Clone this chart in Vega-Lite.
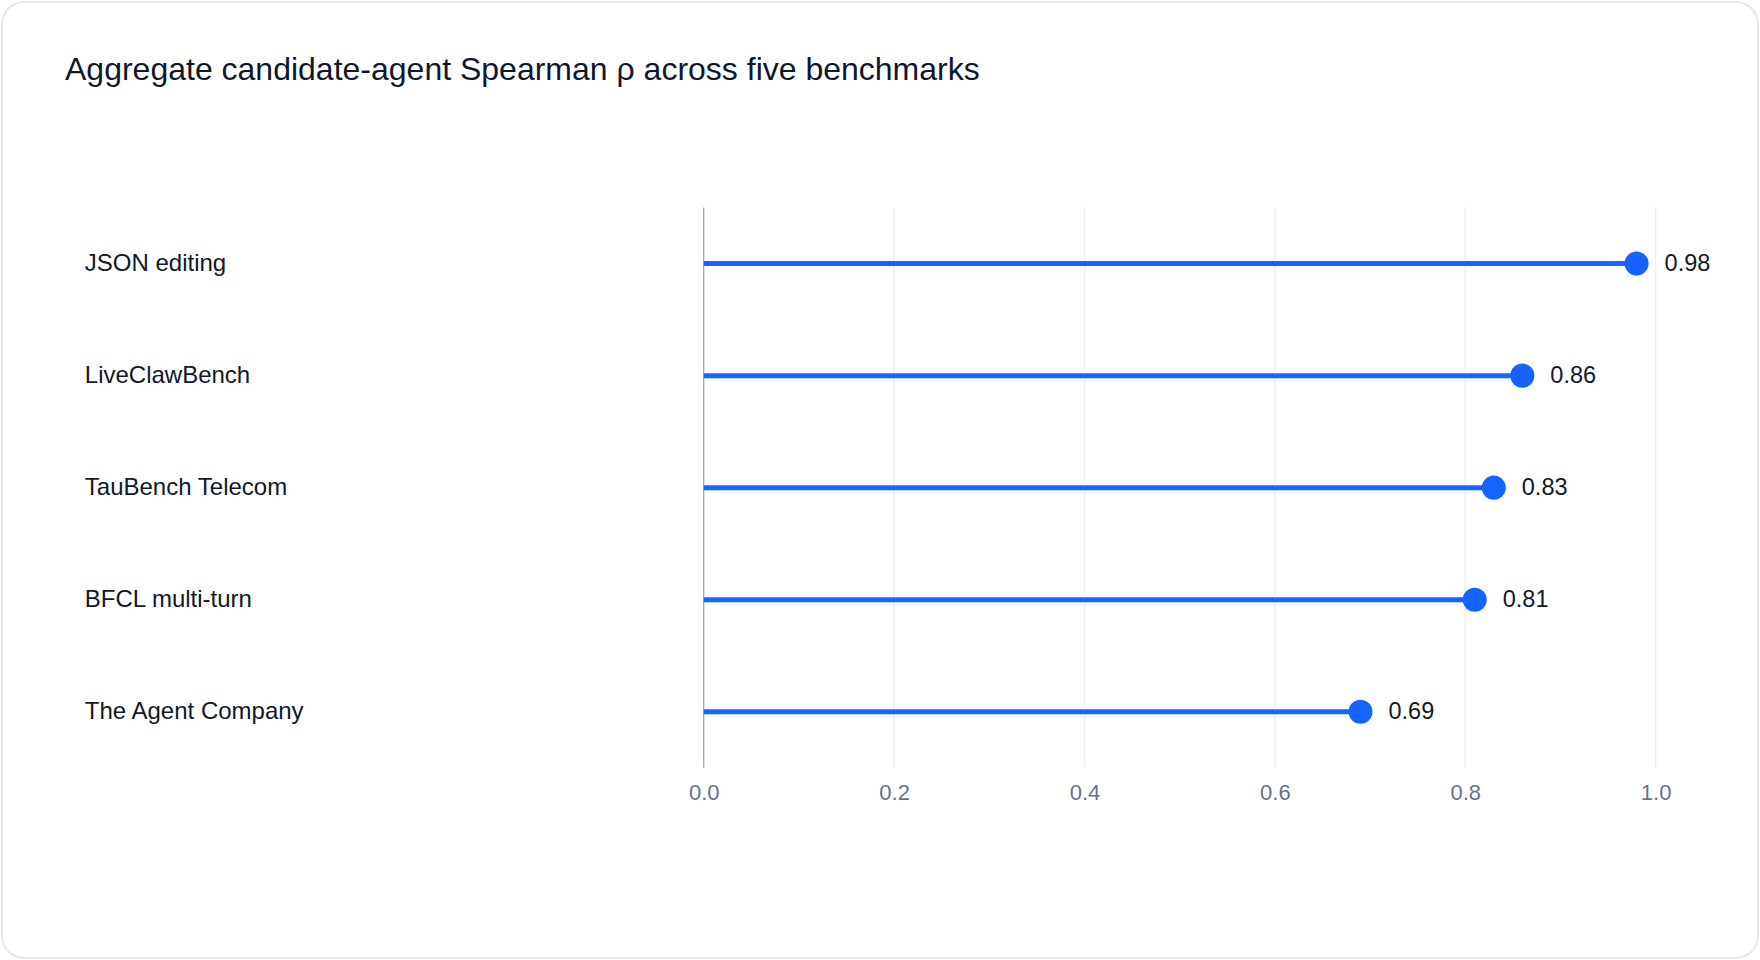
{
  "$schema": "https://vega.github.io/schema/vega-lite/v6.json",
  "autosize": {"type": "none"},
  "width": 1756,
  "height": 956,
  "padding": {"left": 2, "top": 2, "right": 2, "bottom": 2},
  "background": "#ffffff",
  "title": {
    "text": "Aggregate candidate-agent Spearman ρ across five benchmarks",
    "anchor": "start",
    "frame": "group",
    "dx": 63,
    "offset": -109.5,
    "baseline": "alphabetic",
    "font": "Liberation Sans",
    "fontSize": 32,
    "fontWeight": "normal",
    "color": "#0f172a"
  },
  "datasets": {
    "scores": [
      {"benchmark": "JSON editing", "rho": 0.98},
      {"benchmark": "LiveClawBench", "rho": 0.86},
      {"benchmark": "TauBench Telecom", "rho": 0.83},
      {"benchmark": "BFCL multi-turn", "rho": 0.81},
      {"benchmark": "The Agent Company", "rho": 0.69}
    ],
    "gridlines": [
      {"tick": 0.2},
      {"tick": 0.4},
      {"tick": 0.6},
      {"tick": 0.8},
      {"tick": 1.0}
    ]
  },
  "layer": [
    {
      "data": {"name": "gridlines"},
      "mark": {"type": "rule", "color": "#eef0f4", "strokeWidth": 1.5},
      "encoding": {
        "x": {"field": "tick", "type": "quantitative"},
        "y": {"datum": "JSON editing", "type": "nominal", "bandPosition": 0},
        "y2": {"datum": "The Agent Company", "bandPosition": 1}
      }
    },
    {
      "data": {"name": "gridlines"},
      "transform": [{"filter": "datum.tick == 0.2"}],
      "mark": {"type": "rule", "color": "#94a3b8", "strokeWidth": 1.2},
      "encoding": {
        "x": {"datum": 0, "type": "quantitative"},
        "y": {"datum": "JSON editing", "type": "nominal", "bandPosition": 0},
        "y2": {"datum": "The Agent Company", "bandPosition": 1}
      }
    },
    {
      "data": {"name": "scores"},
      "layer": [
        {
          "mark": {"type": "rule", "color": "#1664ff", "strokeWidth": 5},
          "encoding": {
            "x": {"field": "rho", "type": "quantitative"},
            "x2": {"datum": 0}
          }
        },
        {
          "mark": {"type": "circle", "color": "#1664ff", "size": 580, "opacity": 1},
          "encoding": {
            "x": {"field": "rho", "type": "quantitative"}
          }
        },
        {
          "mark": {
            "type": "text",
            "align": "left",
            "baseline": "middle",
            "dx": 28,
            "font": "Liberation Sans",
            "fontSize": 23.5,
            "color": "#111827"
          },
          "encoding": {
            "x": {"field": "rho", "type": "quantitative"},
            "text": {"field": "rho", "type": "quantitative", "format": ".2f"}
          }
        }
      ],
      "encoding": {
        "y": {"field": "benchmark", "type": "nominal"}
      }
    }
  ],
  "resolve": {"scale": {"x": "shared", "y": "shared"}},
  "encoding": {
    "x": {
      "type": "quantitative",
      "title": null,
      "scale": {"domain": [0, 1], "range": [701.7, 1653.6], "nice": false, "zero": false},
      "axis": {
        "values": [0, 0.2, 0.4, 0.6, 0.8, 1.0],
        "format": ".1f",
        "labelFont": "Liberation Sans",
        "labelFontSize": 22,
        "labelColor": "#64748b",
        "labelFlush": false,
        "labelPadding": 0,
        "offset": -176,
        "ticks": false,
        "tickSize": 0,
        "domain": false,
        "grid": false
      }
    },
    "y": {
      "type": "nominal",
      "title": null,
      "scale": {
        "type": "band",
        "domain": ["JSON editing", "LiveClawBench", "TauBench Telecom", "BFCL multi-turn", "The Agent Company"],
        "range": [205.6, 765.7],
        "paddingInner": 0,
        "paddingOuter": 0
      },
      "axis": {
        "orient": "left",
        "labelAlign": "left",
        "labelPadding": -82.3,
        "labelLimit": 0,
        "labelFont": "Liberation Sans",
        "labelFontSize": 24,
        "labelColor": "#111827",
        "ticks": false,
        "tickSize": 0,
        "grid": false,
        "domain": false
      }
    }
  },
  "config": {
    "view": {"stroke": "#e5e7eb", "strokeWidth": 2, "cornerRadius": 22, "fill": "#ffffff"}
  }
}
